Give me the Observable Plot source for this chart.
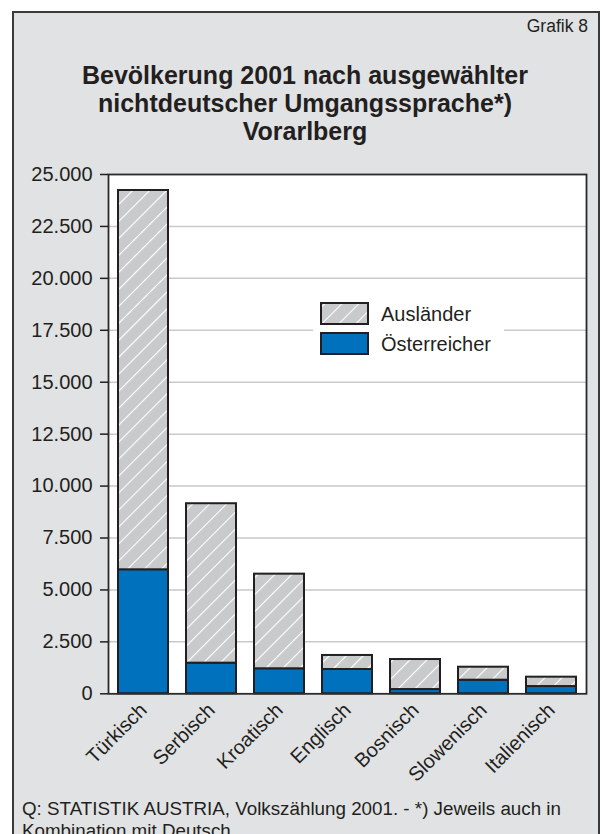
<!DOCTYPE html>
<html><head><meta charset="utf-8">
<script src="https://cdn.jsdelivr.net/npm/d3@7"></script>
<script src="https://cdn.jsdelivr.net/npm/@observablehq/plot@0.6"></script>
<style>
body{margin:0;background:#fff;width:610px;height:834px;overflow:hidden;position:relative;font-family:"Liberation Sans",Arial,sans-serif;color:#231f20}
#panel{position:absolute;left:12px;top:11px;width:584px;height:900px;background:#e1e2e4;border:2px solid #3a3a3a;box-sizing:content-box}
#chart{position:absolute;left:0;top:0}
#grafik{position:absolute;right:22px;top:16px;font-size:17.5px;line-height:20px;white-space:nowrap}
#title{position:absolute;left:0;width:610px;top:61px;text-align:center;font-size:25px;line-height:28px;font-weight:bold}
#caption{position:absolute;left:22px;top:798px;font-size:18.8px;line-height:22px;white-space:nowrap}
#legend{position:absolute;left:0;top:0}
</style>
</head><body>
<div id="panel"></div>
<div id="grafik">Grafik 8</div>
<div id="title">Bevölkerung 2001 nach ausgewählter<br>nichtdeutscher Umgangssprache*)<br>Vorarlberg</div>
<div id="chart"></div>
<div id="caption">Q: STATISTIK AUSTRIA, Volkszählung 2001. - *) Jeweils auch in<br>Kombination mit Deutsch.</div>
<script>
const categories = ["Türkisch","Serbisch","Kroatisch","Englisch","Bosnisch","Slowenisch","Italienisch"];
const oesterreicher = [5970, 1475, 1205, 1170, 205, 655, 350];
const auslaender = [18260, 7675, 4555, 675, 1445, 625, 450];
const groups = ["Österreicher", "Ausländer"];
const yTicks = [0, 2500, 5000, 7500, 10000, 12500, 15000, 17500, 20000, 22500, 25000];

const fmt = d3.formatLocale({decimal: ",", thousands: ".", grouping: [3], currency: ["", "€"]}).format(",d");
const rows = categories.flatMap((c, i) => [
  {sprache: c, gruppe: groups[0], wert: oesterreicher[i]},
  {sprache: c, gruppe: groups[1], wert: auslaender[i]}
]);

const chart = Plot.plot({
  width: 610, height: 800,
  marginLeft: 108, marginRight: 24, marginTop: 174, marginBottom: 106.7,
  style: {background: "transparent", fontSize: "20px", fontFamily: '"Liberation Sans", Arial, sans-serif', color: "#231f20", overflow: "visible"},
  x: {domain: categories, paddingInner: 0.26, paddingOuter: 0.13, label: null},
  y: {domain: [0, 25000], label: null},
  color: {domain: groups, range: ["#0071bc", "url(#hatch)"]},
  marks: [
    Plot.frame({fill: "white", stroke: null}),
    Plot.ruleY(yTicks.filter(v => v > 0 && v < 25000), {stroke: "#c9c9c9", strokeWidth: 1.5}),
    Plot.barY(rows, Plot.stackY({x: "sprache", y: "wert", fill: "gruppe", stroke: "#231f20", strokeWidth: 2})),
    Plot.frame({stroke: "#2a2a2a", strokeWidth: 1.8}),
    Plot.axisY({ticks: yTicks, tickFormat: fmt, tickSize: 8, tickPadding: 8, label: null, strokeWidth: 1.5}),
    Plot.axisX({tickSize: 0, tickRotate: -45, tickPadding: 13, label: null})
  ]
});
const defs = d3.select(chart).insert("defs", ":first-child");
defs.html('<pattern id="hatch" width="12" height="12" patternUnits="userSpaceOnUse" patternTransform="rotate(45)"><rect width="12" height="12" fill="#c9cacc"/><line x1="0" y1="0" x2="0" y2="12" stroke="#fff" stroke-width="2.2"/></pattern>');
document.getElementById("chart").appendChild(chart);

// legend
const lg = d3.select("body").append("svg").attr("id", "legend").attr("width", 610).attr("height", 834)
  .style("position", "absolute").style("left", 0).style("top", 0);
lg.append("defs").html('<pattern id="hatch2" width="12" height="12" patternUnits="userSpaceOnUse" patternTransform="rotate(45)"><rect width="12" height="12" fill="#c9cacc"/><line x1="0" y1="0" x2="0" y2="12" stroke="#fff" stroke-width="2.2"/></pattern>');
lg.append("rect").attr("x", 313).attr("y", 294).attr("width", 191).attr("height", 70).attr("fill", "white");
const legendColors = {"Ausländer": "url(#hatch2)", "Österreicher": "#0071bc"};
["Ausländer", "Österreicher"].forEach((g, i) => {
  const y = 303 + i * 30;
  lg.append("rect").attr("x", 321).attr("y", y).attr("width", 47).attr("height", 21)
    .attr("fill", legendColors[g]).attr("stroke", "#231f20").attr("stroke-width", 2);
  lg.append("text").attr("x", 381).attr("y", y + 18).attr("font-size", 20)
    .attr("font-family", '"Liberation Sans", Arial, sans-serif').attr("fill", "#231f20").text(g);
});
</script>
</body></html>
